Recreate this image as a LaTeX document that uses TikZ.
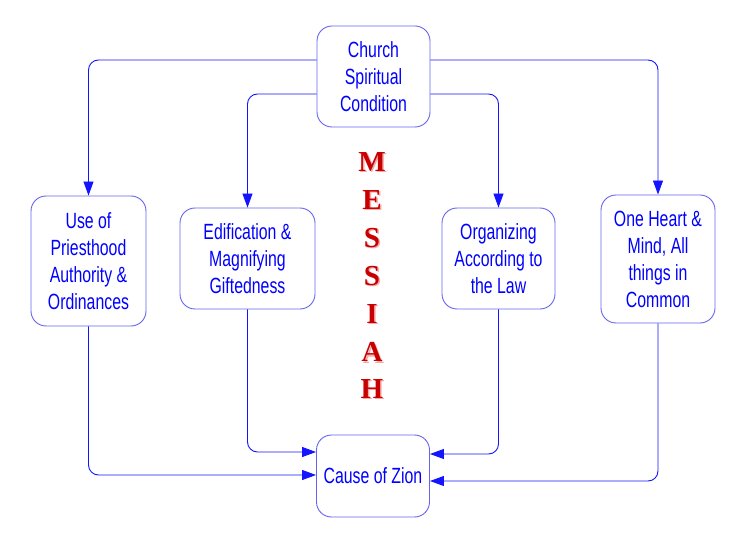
\documentclass[tikz,border=0pt]{standalone}
\usepackage{fontspec}
\setmainfont{Liberation Sans}
\newfontfamily\boxfont[FakeStretch=0.72]{Liberation Sans}
\newfontfamily\msfont{Liberation Serif}
\usetikzlibrary{arrows.meta}
\definecolor{txtblue}{RGB}{0,0,255}
\definecolor{boxline}{RGB}{100,100,240}
\definecolor{linkblue}{RGB}{20,20,255}
\definecolor{msred}{RGB}{200,0,0}
\definecolor{mspink}{RGB}{245,170,170}
\tikzset{
  card/.style={draw=boxline, line width=0.9pt, rounded corners=15pt, fill=white,
    text=txtblue, align=center, inner sep=0pt,
    font=\boxfont\fontsize{22}{27}\selectfont},
  conn/.style={draw=linkblue, line width=0.9pt, rounded corners=10pt,
    -{Triangle[length=14pt,width=10pt]}},
  letter/.style={text=msred, font=\msfont\bfseries\fontsize{29}{29}\selectfont, inner sep=0pt},
  lshadow/.style={text=mspink, font=\msfont\bfseries\fontsize{29}{29}\selectfont, inner sep=0pt}
}
\begin{document}
\begin{tikzpicture}[x=1pt,y=-1pt]
\useasboundingbox (0,0) rectangle (750,545);
\node[card, minimum width=113pt, minimum height=101pt] (church) at (373.5,76.5) {Church\\Spiritual\\Condition};
\node[card, minimum width=115pt, minimum height=130pt] (use) at (88.5,261) {Use of\\Priesthood\\Authority \&\\Ordinances};
\node[card, minimum width=135pt, minimum height=101pt] (edif) at (247.5,258.5) {Edification \&\\Magnifying\\Giftedness};
\node[card, minimum width=113pt, minimum height=101pt] (org) at (498.5,258.5) {Organizing\\According to\\the Law};
\node[card, minimum width=114pt, minimum height=128pt] (one) at (658,259) {One Heart \&\\Mind, All\\things in\\Common};
\node[card, minimum width=113pt, minimum height=82pt] (cause) at (373,476) {Cause of Zion};

\draw[conn] ([yshift=16.5pt]church.west) -| (use.north);
\draw[conn] ([yshift=-17.5pt]church.west) -| (edif.north);
\draw[conn] ([yshift=16.5pt]church.east) -| (one.north);
\draw[conn] ([yshift=-17.5pt]church.east) -| (org.north);

\draw[conn] (use.south) |- ([yshift=1pt]cause.west);
\draw[conn] (edif.south) |- ([yshift=24pt]cause.west);
\draw[conn] (org.south) |- ([yshift=22pt]cause.east);
\draw[conn] (one.south) |- ([yshift=-5pt]cause.east);

\foreach \ch/\yy/\nm in {M/162/m1,E/200/m2,S/238/m3,S/276/m4,I/314/m5,A/352/m6,H/389/m7}{
  \node[lshadow] (\nm s) at (373.5,\yy+1.5) {\ch};
  \node[letter] (\nm) at (372,\yy) {\ch};
}
\end{tikzpicture}
\end{document}
